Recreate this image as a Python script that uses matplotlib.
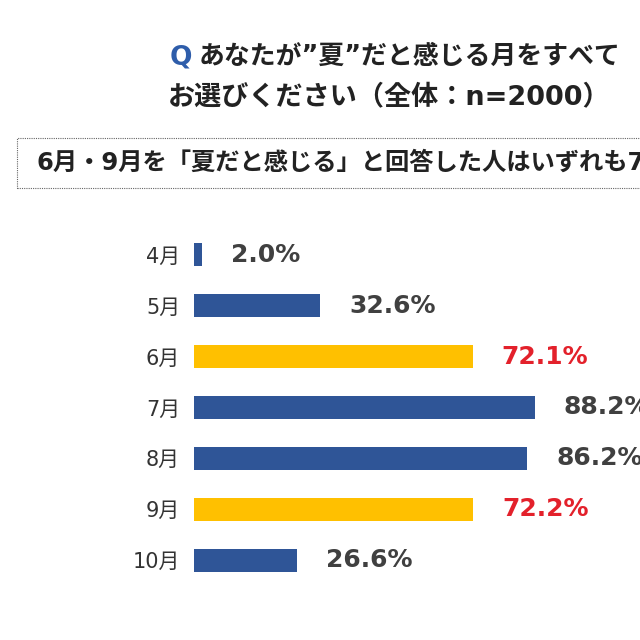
import matplotlib.pyplot as plt
from matplotlib.patches import Rectangle

plt.rcParams['font.family'] = ['DejaVu Sans', 'Noto Sans CJK JP']

months = ["4月", "5月", "6月", "7月", "8月", "9月", "10月"]
values = [2.0, 32.6, 72.1, 88.2, 86.2, 72.2, 26.6]
highlight = [False, False, True, False, False, True, False]

BLUE = "#2F5597"
YELLOW = "#FFC000"
RED = "#E3212B"
TEXT = "#404040"

fig = plt.figure(figsize=(6.4, 6.4), dpi=100)
fig.patch.set_facecolor("white")

# title
fig.text(170 / 640, 1 - 57 / 640, "Q", color="#2E5DAA", fontsize=19,
         fontweight="bold", va="center", ha="left")
fig.text(199 / 640, 1 - 57 / 640, "あなたが”夏”だと感じる月をすべて", color="#222222",
         fontsize=18.6, fontweight="bold", va="center", ha="left")
fig.text(168 / 640, 1 - 97 / 640, "お選びください（全体：n=2000）", color="#222222",
         fontsize=19.5, fontweight="bold", va="center", ha="left")

# dotted summary box, runs off the right edge like the source slide
fig.patches.append(Rectangle((17 / 640, 1 - 188 / 640), 0.99, 50 / 640,
                             transform=fig.transFigure, fill=False,
                             ec="#666666", ls=(0, (1, 1)), lw=0.8))
fig.text(37 / 640, 1 - 163 / 640, "6月・9月を「夏だと感じる」と回答した人はいずれも7割以上",
         color="#222222", fontsize=17.5, fontweight="bold", va="center", ha="left")

ax = fig.add_axes([194 / 640, 1 - 585.5 / 640, 386.6 / 640, 356 / 640])
y = list(range(len(months)))
colors = [YELLOW if h else BLUE for h in highlight]
ax.barh(y, values, height=0.45, color=colors)
ax.set_xlim(0, 100)
ax.set_ylim(len(months) - 0.5, -0.5)
ax.set_yticks(y)
ax.set_yticklabels(months, fontsize=15, color="#333333")
ax.tick_params(axis="y", length=0, pad=10)
ax.set_xticks([])
for s in ax.spines.values():
    s.set_visible(False)

for yi, v, h in zip(y, values, highlight):
    ax.text(v + 7.5, yi, f"{v:.1f}%", va="center", ha="left", fontsize=18,
            fontweight="bold", color=RED if h else TEXT, clip_on=False)

fig.savefig("out.png", dpi=100)
